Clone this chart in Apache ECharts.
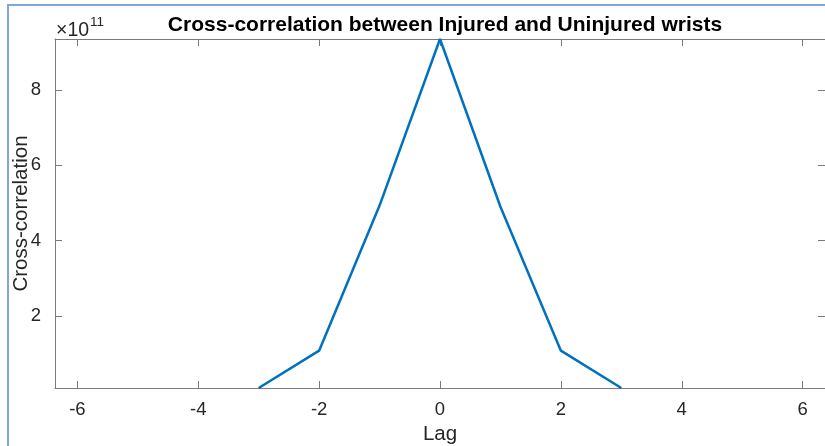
<!DOCTYPE html>
<html>
<head>
<meta charset="utf-8">
<script src="https://cdn.jsdelivr.net/npm/echarts@6/dist/echarts.min.js"></script>
<style>
html,body{margin:0;padding:0;background:#fff;}
#chart{width:825px;height:446px;}
</style>
</head>
<body>
<div id="chart"></div>
<script>
const lags = [-3, -2, -1, 0, 1, 2, 3];
const xcorrValues = [0.09e11, 1.08e11, 4.93e11, 9.35e11, 4.90e11, 1.08e11, 0.09e11];
const xTicks = [-6, -4, -2, 0, 2, 4, 6];
const yTicks = [2e11, 4e11, 6e11, 8e11];
const xRange = [-6.37, 6.37];
const yRange = [0.09e11, 9.35e11];

const FONT = '"Liberation Sans", Arial, Helvetica, sans-serif';
const axisCol = '#7a7a7a';
const txtCol = '#262626';

const chart = echarts.init(document.getElementById('chart'), null, {renderer: 'canvas'});

function xAx(pos, showLabels, name) {
  return {
    type: 'value', position: pos, min: xRange[0], max: xRange[1],
    name: name || '', nameLocation: 'middle', nameGap: 36, nameMoveOverlap: false,
    nameTextStyle: {fontFamily: FONT, fontSize: 20.5, color: txtCol},
    axisLine: {show: true, onZero: false, lineStyle: {color: axisCol, width: 1}},
    axisTick: {show: true, inside: true, length: 7, customValues: xTicks, lineStyle: {color: axisCol}},
    axisLabel: {show: showLabels, customValues: xTicks, margin: 12, fontFamily: FONT, fontSize: 18.5, color: txtCol},
    splitLine: {show: false}
  };
}
function yAx(pos, showLabels, name) {
  return {
    type: 'value', position: pos, min: yRange[0], max: yRange[1],
    name: name || '', nameLocation: 'middle', nameGap: 23, nameMoveOverlap: false,
    nameTextStyle: {fontFamily: FONT, fontSize: 20.5, color: txtCol},
    axisLine: {show: true, onZero: false, lineStyle: {color: axisCol, width: 1}},
    axisTick: {show: true, inside: true, length: 7, customValues: yTicks, lineStyle: {color: axisCol}},
    axisLabel: {show: showLabels, customValues: yTicks, margin: 14, fontFamily: FONT, fontSize: 18.5, color: txtCol,
      formatter: v => String(Math.round(v / 1e11))},
    splitLine: {show: false}
  };
}

chart.setOption({
  animation: false,
  backgroundColor: '#fff',
  title: {
    text: 'Cross-correlation between Injured and Uninjured wrists',
    left: 440, textAlign: 'center', top: 10,
    textStyle: {fontFamily: FONT, fontSize: 21, fontWeight: 'bold', color: '#000'}
  },
  graphic: [
    {type: 'rect', shape: {x: 8, y: 5, width: 900, height: 600}, silent: true, z: 100,
     style: {fill: 'none', stroke: '#7ea6dc', lineWidth: 2}},
    {type: 'text', left: 56, top: 21, silent: true,
     style: {text: '\u00d710', fontFamily: FONT, fontSize: 19.5, fill: txtCol}},
    {type: 'text', left: 90, top: 15, silent: true,
     style: {text: '11', fontFamily: FONT, fontSize: 13.5, fill: txtCol}}
  ],
  grid: {left: 55, top: 39, right: 0, bottom: 58, containLabel: false, outerBoundsMode: 'none'},
  xAxis: [xAx('bottom', true, 'Lag'), xAx('top', false)],
  yAxis: [yAx('left', true, 'Cross-correlation'), yAx('right', false)],
  series: [{
    type: 'line', xAxisIndex: 0, yAxisIndex: 0,
    data: lags.map((l, i) => [l, xcorrValues[i]]),
    showSymbol: false, symbol: 'none',
    lineStyle: {color: '#0072BD', width: 2.5},
    clip: false
  }]
});
</script>
</body>
</html>
